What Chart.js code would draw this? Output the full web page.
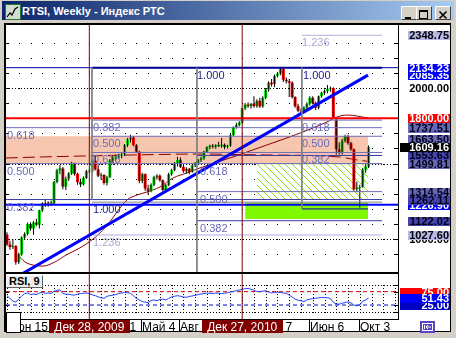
<!DOCTYPE html>
<html><head><meta charset="utf-8">
<script src="https://cdn.jsdelivr.net/npm/chart.js@4.4.1/dist/chart.umd.min.js"></script>
<style>
html,body{margin:0;padding:0}
body{width:456px;height:338px;background:#d4d0c8;position:relative;overflow:hidden;font-family:"Liberation Sans",Arial,sans-serif}
.abs{position:absolute}
#title{left:2px;top:1px;width:452px;height:19px;background:linear-gradient(to right,#0a246a,#a6caf0)}
#ttext{left:22px;top:5px;color:#fff;font:bold 11px "Liberation Sans",Arial,sans-serif;white-space:nowrap;line-height:13px}
.btn{top:6px;width:14px;height:12px;background:#d4d0c8;border:1px solid;border-color:#fff #404040 #404040 #fff}
#client{left:4px;top:23px;width:447px;height:309px;box-sizing:border-box;background:#fff;border-top:2px solid #000;border-left:2px solid #000;border-right:1px solid #000;border-bottom:1px solid #000}
#rsilab{left:6px;top:275px;width:33px;height:11px;background:#eeeeee;border:1px solid;border-color:#fff #606060 #606060 #fff;font:bold 11px "Liberation Sans",Arial,sans-serif;line-height:11px;padding-left:2px;color:#000}
#corner{left:6px;top:312px;width:13px;height:19px;background:#fff;border:1px solid #000}
</style></head><body>
<div id="title" class="abs"></div>
<svg class="abs" style="left:5px;top:4px" width="16" height="16"><rect x="0.5" y="0.5" width="15" height="15" fill="#cfdccf" stroke="#2f6f2f"/><polyline points="2,13 5,9 7,11 10,5 13,3" fill="none" stroke="#000" stroke-width="1.2"/></svg>
<div id="ttext" class="abs">RTSI, Weekly - Индекс РТС</div>
<div class="abs btn" style="left:401px"><svg width="14" height="12"><rect x="3" y="8" width="6" height="2" fill="#000"/></svg></div>
<div class="abs btn" style="left:416px"><svg width="14" height="12"><rect x="2.5" y="1.5" width="8" height="8" fill="none" stroke="#000"/><rect x="2" y="1" width="9" height="2" fill="#000"/></svg></div>
<div class="abs btn" style="left:435px"><svg width="14" height="12"><path d="M3.5 2.5 L10.5 9.5 M10.5 2.5 L3.5 9.5" stroke="#000" stroke-width="1.6"/></svg></div>
<div id="client" class="abs"></div>
<canvas id="c1" class="abs" style="left:4px;top:23px" width="448" height="250"></canvas>
<canvas id="c2" class="abs" style="left:4px;top:273px" width="448" height="60"></canvas>
<div id="rsilab" class="abs">RSI, 9</div>
<div id="corner" class="abs"></div>
<svg class="abs" style="left:420px;top:321px" width="15" height="12"><rect x="0" y="0" width="15" height="12" fill="#5a44c6"/><rect x="2.5" y="2.5" width="10" height="7" fill="none" stroke="#fff"/><path d="M4.5 4 L4.5 8 M11 6 L6 6 M8 4 L6 6 L8 8" stroke="#fff" fill="none"/></svg>
<script>
// ---- DATA (weekly bars, bar 0 = week of 2009-06-15) ----
const opens  = [1030,965,948,955,848,900,1010,1035,1100,1070,1110,1095,1190,1238,1228,1242,1236,1378,1455,1468,1348,1400,1435,1500,1432,1378,1362,1405,1450,1448,1520,1462,1420,1425,1372,1410,1520,1535,1548,1552,1560,1622,1660,1672,1622,1578,1385,1430,1335,1320,1360,1410,1420,1390,1325,1358,1430,1455,1500,1525,1478,1450,1465,1445,1488,1500,1524,1535,1578,1610,1618,1612,1622,1615,1625,1610,1618,1688,1740,1755,1770,1865,1890,1880,1895,1880,1915,1878,1935,1990,2035,2025,2080,2095,2125,2055,2045,2035,1940,1880,1850,1845,1870,1895,1935,1900,1870,1945,1968,1980,1995,2000,1790,1595,1575,1650,1680,1635,1595,1330,1340,1345,1460,1480];
const highs  = [1045,990,1000,960,910,1020,1045,1110,1112,1120,1135,1195,1245,1262,1250,1255,1385,1465,1490,1478,1415,1445,1512,1505,1440,1400,1415,1460,1462,1530,1550,1495,1440,1430,1420,1530,1550,1560,1565,1575,1630,1670,1690,1680,1630,1585,1440,1435,1360,1370,1420,1430,1428,1395,1365,1440,1465,1510,1545,1540,1490,1475,1470,1495,1510,1530,1545,1585,1615,1625,1630,1628,1645,1670,1632,1625,1695,1745,1770,1780,1870,1900,1905,1900,1945,1925,1935,1945,2000,2045,2060,2090,2105,2134.23,2130,2070,2060,2045,1945,1895,1865,1880,1905,1945,1945,1910,1950,1975,1990,2020,2010,2005,1795,1640,1665,1690,1690,1645,1600,1380,1360,1470,1500,1620];
const lows   = [955,930,935,830,835,890,995,1025,1055,1030,1085,1070,1180,1212,1215,1220,1230,1370,1430,1330,1325,1385,1425,1420,1360,1345,1355,1398,1438,1440,1455,1410,1395,1360,1355,1405,1505,1520,1530,1535,1550,1610,1640,1615,1570,1370,1370,1320,1295,1310,1350,1395,1380,1315,1310,1350,1420,1450,1480,1470,1440,1435,1430,1440,1478,1495,1510,1525,1570,1595,1600,1598,1610,1605,1595,1600,1612,1680,1730,1745,1765,1855,1870,1865,1870,1870,1870,1870,1925,1975,2010,2005,2070,2085,2040,2030,1940,1930,1870,1840,1835,1835,1860,1885,1890,1855,1860,1935,1955,1965,1975,1795,1560,1560,1560,1640,1625,1585,1320,1310,1210,1340,1440,1470];
const closes = [965,948,955,848,900,1010,1035,1100,1070,1110,1095,1190,1238,1228,1242,1236,1378,1455,1468,1348,1400,1435,1500,1432,1378,1362,1405,1450,1448,1520,1462,1420,1425,1372,1410,1520,1535,1548,1552,1560,1622,1660,1672,1622,1578,1385,1430,1335,1320,1360,1410,1420,1390,1325,1358,1430,1455,1500,1525,1478,1450,1465,1445,1488,1500,1524,1535,1578,1610,1618,1612,1622,1615,1625,1610,1618,1688,1740,1755,1770,1865,1890,1880,1895,1880,1915,1878,1935,1990,2035,2025,2080,2095,2125,2055,2045,2035,1940,1880,1850,1845,1870,1895,1935,1900,1870,1945,1968,1980,1995,2000,1808,1595,1575,1650,1680,1635,1595,1330,1340,1345,1460,1480,1609.16];
const rsi9   = [60,50,40,36,48,58,68,70,64,66,64,70,72,69,70,68,76,80,82,68,66,65,63,62,66,68,69,70,68,63,60,56,52,50,58,60,62,64,68,70,72,71,69,60,50,44,38,36,34,42,44,41,46,47,44,50,55,58,60,58,55,54,57,59,61,64,66,68,70,69,68,70,69,68,69,71,74,76,79,81,84,86,87,84,80,76,75,77,79,74,70,72,73,72,70,69,62,55,47,43,41,38,44,47,49,50,52,53,53,52,50,35,29,28,32,34,37,33,25,22,25,40,44,51.43];
// moving averages: [bar, price]
const maThin = [[3.7,895],[6.1,849],[8.8,829],[12.2,822],[16.3,849],[20.1,895],[24.8,942],[28.9,995],[31.6,1041],[35,1114],[37.4,1180],[40.8,1259],[44.2,1292],[47.6,1312],[52,1345],[56.5,1405],[61.2,1438],[65.6,1471],[76.9,1544],[88.4,1623],[99.7,1702],[108.8,1775],[112.2,1808],[115.7,1821],[122.8,1802]];
const maLong = [[-0.4,1537],[12,1544],[26,1550],[43,1557],[65,1563],[88,1557],[113,1544],[119,1524],[122.8,1515]];
const trendLine = [[0,713.2],[122.8,2085.35]];
// horizontal objects: [price, fromBar, toBar, kind]
const levels = [
 [2348.75,100.3,127.6,'fibLo'],[2134.23,-0.4,133,'navy'],[2134.23,28.9,127.6,'navyThick'],
 [1800,-0.4,133,'red'],[1787.6,28.9,127.6,'fib'],[1737.51,-0.4,127.6,'fib'],[1680.6,28.9,127.6,'fib'],
 [1573.5,28.9,127.6,'fib'],[1553.63,64.6,127.6,'fibDark'],[1499.81,-0.4,127.6,'fib'],[1314.54,64.6,127.6,'fib'],
 [1262.11,-0.4,127.6,'fibDark'],[1245,28.9,127.6,'gray'],[1226.90,-0.4,133,'blue'],[1200,100.3,122.8,'navy'],
 [1122.02,64.6,127.6,'fibDark'],[1027.60,28.9,127.6,'fibLo']
];
// vertical object edges: [bar, topPrice, bottomPrice]
const boxEdges = [[28.9,2134.23,1262.11],[64.6,2134.23,700],[100.3,2134.23,1200]];
const zones = [ // [fromBar, toBar, top, bottom, kind]
 [-0.4,122.8,1680.6,1499.81,'band'],[85,122.8,1499.81,1262.11,'hatch'],[81,122.8,1241,1133,'lime']
];
const fibTexts = [
 ['0.618',0,1737.51],['0.500',0,1499.81],['0.382',0,1262.11],
 ['0.382',29.3,1787.6],['0.500',29.3,1680.6],['0.618',29.3,1573.5],['1.000',29.3,1245],['1.236',29.3,1027.6],
 ['1.000',64.6,2134.23],['0.618',65.6,1499.81],['0.500',65.6,1314.54],['0.382',65.6,1122.02],
 ['1.236',100.3,2348.75],['1.000',100.6,2134.23],['0.618',100.3,1787.6],['0.500',100.3,1680.6],['0.382',100.3,1573.5]
];
const axisPrices = [1000,1500,2000];
const priceMarks = [
 [2348.75,'lav'],[2085.35,'blue'],[2134.23,'blue'],[1757.91,'slate'],[1737.51,'slate'],[1800.00,'red'],
 [1663.50,'slate'],[1553.63,'slateDark'],[1499.81,'slate'],[1609.16,'bid'],[1314.54,'slate'],
 [1226.90,'blue'],[1262.11,'slateDark'],[1122.02,'slateDark'],[1027.60,'lav']
];
const rsiLevels = [75,25];
const rsiMarks = [[75,'red'],[25,'navy'],[51.43,'blue']];
const dateLines = [[28,'Дек 28, 2009'],[80,'Дек 27, 2010']];
const xLabels = [['Июн 15',0],['Фев 1',33],['Май 4',46],['Авг 2',59],['Фев 7',86],['Июн 6',103],['Окт 3',120]];

// ---- STYLES ----
const X_MIN=-0.34, X_MAX=133.0, P_MIN=782.8, P_MAX=2416.7, R_MIN=-27.3, R_MAX=141.2;
const lineStyle = {fibLo:['#b0b0e0',1],fib:['#6c6cb8',1],fibDark:['#3a3aa8',1],navy:['#0000b0',1],navyThick:['#000080',2],red:['#ff0000',2],blue:['#0000ff',2],gray:['#808080',1]};
const markStyle = {plain:[null,'#000'],lav:['#b8b8e8','#000'],blue:['#0000ff','#fff'],red:['#ff0000','#fff'],slate:['#6868b8','#000018'],slateDark:['#4444ac','#000018'],bid:['#000','#fff'],navy:['#0000c0','#fff']};
const hc=document.createElement('canvas');hc.width=7;hc.height=7;const hx=hc.getContext('2d');
hx.fillStyle='#fff';hx.fillRect(0,0,7,7);hx.strokeStyle='#8ee01a';hx.lineWidth=1;hx.beginPath();hx.moveTo(-1,-1);hx.lineTo(8,8);hx.stroke();
const hatch=hx.createPattern(hc,'repeat');
const zoneFill = {band:'#f7c6ae', hatch:null, lime:'#80f800'};
const FONT='"Liberation Sans", Arial, sans-serif';

const ds=[];
zones.forEach(z=>ds.push({type:'line',data:[{x:z[0],y:z[2]},{x:z[1],y:z[2]}],borderColor:z[4]==='hatch'?'#8ee01a':'rgba(0,0,0,0)',borderWidth:1,pointRadius:0,fill:{value:z[3]},backgroundColor:z[4]==='hatch'?ctx=>ctx.chart.ctx.createPattern(hc,'repeat'):zoneFill[z[4]],order:100}));
ds.push({type:'line',data:maLong.map(p=>({x:p[0],y:p[1]})),borderColor:'#8b0000',borderWidth:1,borderDash:[12,5],pointRadius:0,cubicInterpolationMode:'monotone',order:60});
ds.push({type:'line',data:maThin.map(p=>({x:p[0],y:p[1]})),borderColor:'#8b0000',borderWidth:1,pointRadius:0,cubicInterpolationMode:'monotone',order:59});
ds.push({type:'bar',data:closes.map((c,i)=>({x:i,y:[Math.min(opens[i],c),Math.max(opens[i],c)]})),backgroundColor:closes.map((c,i)=>c>=opens[i]?'#00e000':'#ff0000'),barThickness:3,grouped:false,inflateAmount:0,borderWidth:0,order:31});
ds.push({type:'bar',data:closes.map((c,i)=>({x:i,y:[lows[i],highs[i]]})),backgroundColor:'#000',barThickness:1,grouped:false,inflateAmount:0,borderWidth:0,order:30});
levels.forEach(l=>{const s=lineStyle[l[3]];ds.push({type:'line',data:[{x:l[1],y:l[0]},{x:l[2],y:l[0]}],borderColor:s[0],borderWidth:s[1],pointRadius:0,order:10});});
ds.push({type:'line',data:trendLine.map(p=>({x:p[0],y:p[1]})),borderColor:'#0000ff',borderWidth:3,pointRadius:0,order:9});
boxEdges.forEach(b=>ds.push({type:'line',data:[{x:b[0],y:b[1]},{x:b[0],y:b[2]}],borderColor:'#808080',borderWidth:1,pointRadius:0,order:8}));
dateLines.forEach(d=>ds.push({type:'line',data:[{x:d[0],y:P_MIN-50},{x:d[0],y:P_MAX+50}],borderColor:'#800000',borderWidth:1,pointRadius:0,order:7}));

function drawMark(ctx,y,text,kind,x0,x1,right){
  const s=markStyle[kind];y=Math.round(y);
  if(s[0]){ctx.fillStyle=s[0];ctx.fillRect(x0,y-4,x1-x0,9);}
  ctx.fillStyle=s[1];ctx.font='bold 11px '+FONT;ctx.textAlign='right';ctx.textBaseline='middle';
  ctx.fillText(text,right,y+0.5);
}
const mainPlug={id:'mainPlug',
 beforeDatasetsDraw(ch){const c=ch.ctx,xs=ch.scales.x,ys=ch.scales.y,a=ch.chartArea;c.save();c.fillStyle='#000';
  ys.ticks.filter(t=>t.value%100===0).forEach(t=>{const y=Math.round(ys.getPixelForValue(t.value));
    for(let i=0;i<=X_MAX;i+=4){c.fillRect(Math.round(xs.getPixelForValue(i)),y,1,1);}
    c.fillRect(a.left,y,3,1);c.fillRect(a.right-4,y,4,1);});
  axisPrices.forEach(p=>{const y=Math.round(ys.getPixelForValue(p));for(let x=a.left;x<a.right;x+=3)c.fillRect(x,y,1,1);});
  c.restore();},
 afterDatasetsDraw(ch){const c=ch.ctx,xs=ch.scales.x,ys=ch.scales.y,a=ch.chartArea;c.save();
  c.beginPath();c.rect(a.left,a.top,a.right-a.left,a.bottom-a.top);c.clip();
  c.font='11px '+FONT;c.textAlign='left';c.textBaseline='top';
  fibTexts.forEach(f=>{c.fillStyle=f[0]==='1.236'?'#a8a8d8':(f[0]==='1.000'?'#22228c':'#6c6cb8');
    c.fillText(f[0],Math.round(xs.getPixelForValue(f[1])),Math.round(ys.getPixelForValue(f[2]))+2);});
  c.restore();},
 afterDraw(ch){const c=ch.ctx,ys=ch.scales.y,a=ch.chartArea;c.save();
  c.fillStyle='#000';c.fillRect(a.right,0,1,ch.height);c.fillRect(0,ch.height-1,a.right+1,1);
  axisPrices.forEach(p=>drawMark(c,ys.getPixelForValue(p),p.toFixed(2),'plain',404,446,445));
  priceMarks.forEach(m=>{const wide=m[1]==='bid';drawMark(c,ys.getPixelForValue(m[0]),m[0].toFixed(2),m[1],wide?396:404,446,445);});
  c.restore();}
};
new Chart(document.getElementById('c1'),{type:'bar',data:{datasets:ds},plugins:[mainPlug],
 options:{responsive:false,animation:false,events:[],layout:{padding:{left:2,top:2,right:0,bottom:1}},
  plugins:{legend:{display:false},tooltip:{enabled:false}},
  scales:{x:{type:'linear',min:X_MIN,max:X_MAX,offset:false,display:false},
   y:{type:'linear',position:'right',min:P_MIN,max:P_MAX,ticks:{display:false,stepSize:100},grid:{display:false},border:{display:false},afterFit(s){s.width=54;}}}}});

// ---- RSI panel ----
const ds2=[];
ds2.push({data:rsi9.map((v,i)=>({x:i,y:v})),borderColor:'#2040ff',borderWidth:1,pointRadius:0,order:5});
rsiLevels.forEach(v=>ds2.push({data:[{x:X_MIN,y:v},{x:X_MAX,y:v}],borderColor:v>50?'#cc0000':'#0000cc',borderWidth:1,borderDash:[4,3],pointRadius:0,order:6}));
dateLines.forEach(d=>ds2.push({data:[{x:d[0],y:R_MIN-10},{x:d[0],y:R_MAX+10}],borderColor:'#800000',borderWidth:1,pointRadius:0,order:4}));
const rsiPlug={id:'rsiPlug',
 beforeDatasetsDraw(ch){const c=ch.ctx,xs=ch.scales.x,ys=ch.scales.y,a=ch.chartArea;c.save();c.fillStyle='#000';
  const y0=Math.round(ys.getPixelForValue(0)),y1=Math.round(ys.getPixelForValue(100));
  [y0,y1].forEach(y=>{for(let x=a.left;x<a.right;x+=3)c.fillRect(x,y,1,1);});
  for(let i=0;i<=X_MAX;i+=4){const x=Math.round(xs.getPixelForValue(i));for(let y=y1;y<=y0;y+=3)c.fillRect(x,y,1,1);}
  [0,25,75,100].forEach(v=>{const y=Math.round(ys.getPixelForValue(v));c.fillRect(a.left,y,3,1);c.fillRect(a.right-4,y,4,1);});
  c.restore();},
 afterDraw(ch){const c=ch.ctx,xs=ch.scales.x,ys=ch.scales.y,a=ch.chartArea;c.save();
  c.fillStyle='#000';c.fillRect(a.right,0,1,a.bottom+1);c.fillRect(0,0,a.right+1,1);c.fillRect(0,a.bottom,a.right+1,1);
  rsiMarks.forEach(m=>drawMark(c,ys.getPixelForValue(m[0]),m[0].toFixed(2),m[1],396,446,445));
  c.font='12px '+FONT;c.textBaseline='alphabetic';
  xLabels.forEach(l=>{const x=Math.round(xs.getPixelForValue(l[1]));c.fillStyle='#000';c.fillRect(x-1,a.bottom+1,1,12);c.textAlign='left';c.fillText(l[0],x,a.bottom+12);});
  dateLines.forEach(d=>{const x=xs.getPixelForValue(d[0]);const w=c.measureText(d[1]).width+11;c.fillStyle='#800000';c.fillRect(Math.round(x-w/2),a.bottom+1,Math.round(w),13);c.fillStyle='#fff';c.textAlign='center';c.fillText(d[1],x,a.bottom+12);});
  c.restore();}
};
new Chart(document.getElementById('c2'),{type:'line',data:{datasets:ds2},plugins:[rsiPlug],
 options:{responsive:false,animation:false,events:[],layout:{padding:{left:2,top:1,right:0,bottom:14}},
  plugins:{legend:{display:false},tooltip:{enabled:false}},
  scales:{x:{type:'linear',min:X_MIN,max:X_MAX,display:false},
   y:{type:'linear',position:'right',min:R_MIN,max:R_MAX,ticks:{display:false},grid:{display:false},border:{display:false},afterFit(s){s.width=54;}}}}});
</script>
</body></html>
